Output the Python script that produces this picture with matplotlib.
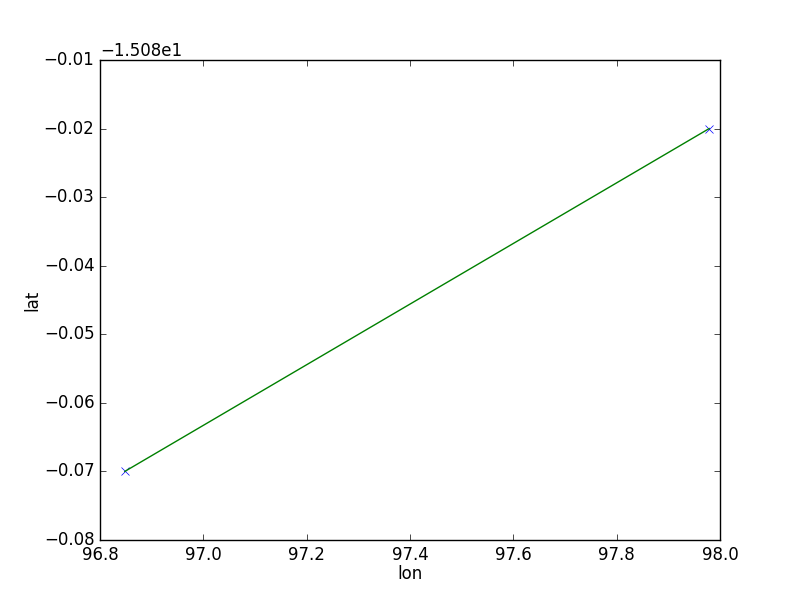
import matplotlib
matplotlib.use('Agg')
import matplotlib.pyplot as plt

plt.style.use('classic')

lon = [96.848, 97.979]
lat = [-15.15, -15.10]

fig = plt.figure(figsize=(8, 6), dpi=100)
fig.patch.set_facecolor('white')
ax = fig.add_subplot(111)
ax.plot(lon, lat, 'x', color='b')
ax.plot(lon, lat, '-', color='g')
ax.set_xlim(96.8, 98.0)
ax.set_ylim(-15.16, -15.09)
ax.yaxis.get_major_formatter().set_useOffset(-15.08)
ax.set_xlabel('lon', labelpad=1)
ax.set_ylabel('lat', labelpad=2)
fig.savefig('out.png', dpi=100, facecolor='white')
